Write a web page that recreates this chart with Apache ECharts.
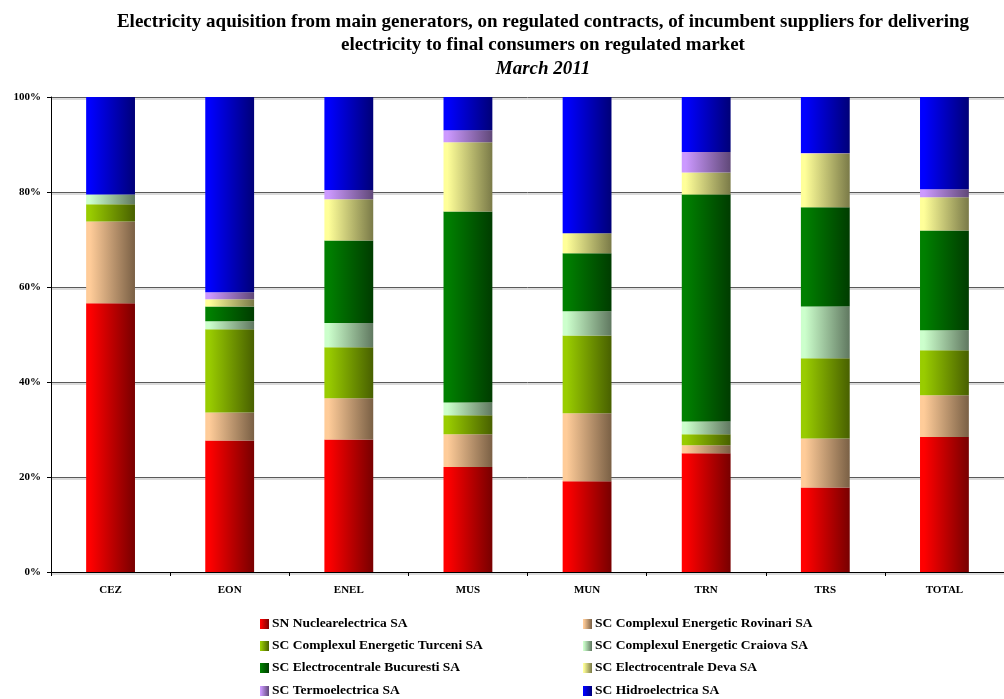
<!DOCTYPE html>
<html>
<head>
<meta charset="utf-8">
<script src="https://cdn.jsdelivr.net/npm/echarts@6/dist/echarts.min.js"></script>
<style>
html,body{margin:0;padding:0;background:#fff;}
#chart{width:1004px;height:699px;}
</style>
</head>
<body>
<div id="chart"></div>
<script>
var categories = ['CEZ','EON','ENEL','MUS','MUN','TRN','TRS','TOTAL'];
var yTicks = ['0%','20%','40%','60%','80%','100%'];

var nuclearelectrica = [56.6, 27.7, 27.9, 22.1, 19.1, 25.0, 17.8, 28.4];
var rovinari         = [17.2,  5.9,  8.7,  6.9, 14.3,  1.7, 10.3,  8.8];
var turceni          = [ 3.6, 17.5, 10.7,  4.0, 16.4,  2.3, 16.9,  9.5];
var craiova          = [ 2.1,  1.7,  5.1,  2.7,  5.1,  2.7, 10.9,  4.2];
var bucuresti        = [ 0.0,  3.1, 17.4, 40.2, 12.2, 47.8, 20.9, 21.0];
var deva             = [ 0.0,  1.5,  8.7, 14.6,  4.2,  4.6, 11.3,  7.0];
var termoelectrica   = [ 0.0,  1.5,  1.9,  2.5,  0.0,  4.3,  0.1,  1.7];
var hidroelectrica   = [20.5, 41.1, 19.6,  7.0, 28.7, 11.6, 11.8, 19.4];

var seriesNames = [
  'SN Nuclearelectrica SA',
  'SC Complexul Energetic Rovinari SA',
  'SC Complexul Energetic Turceni SA',
  'SC Complexul Energetic Craiova SA',
  'SC Electrocentrale Bucuresti SA',
  'SC Electrocentrale Deva SA',
  'SC Termoelectrica SA',
  'SC Hidroelectrica SA'
];
var seriesData = [nuclearelectrica, rovinari, turceni, craiova, bucuresti, deva, termoelectrica, hidroelectrica];
var lightColors = ['#FF0000','#FFCC99','#99CC00','#CCFFCC','#008000','#FFFF99','#CC99FF','#0000FF'];
var darkColors  = ['#780000','#7A6045','#486000','#607860','#003C00','#7A7A48','#604878','#000078'];

function grad(i){
  return new echarts.graphic.LinearGradient(0,0,1,0,[
    {offset:0,color:lightColors[i]},
    {offset:0.08,color:lightColors[i]},
    {offset:1,color:darkColors[i]}
  ]);
}

var series = seriesNames.map(function(n,i){
  return {
    name:n, type:'bar', stack:'total', barWidth:'41%',
    data: seriesData[i],
    itemStyle:{color:grad(i)},
    emphasis:{disabled:true}
  };
});

var serif = '"Liberation Serif","Times New Roman",serif';

// legend placement: two columns, four rows (row-major order)
var legendRowsY = [623, 645, 667, 690];
var legendColsX = [260, 583];
var legends = seriesNames.map(function(n,i){
  var row = Math.floor(i/2), col = i%2;
  return {
    data:[{name:n, icon:'rect'}],
    left:legendColsX[col], top:legendRowsY[row]-6, padding:0,
    itemWidth:9, itemHeight:10, selectedMode:false,
    textStyle:{fontFamily:serif,fontWeight:'bold',fontSize:13.5,color:'#000',padding:[0,0,0,-2]}
  };
});

var chart = echarts.init(document.getElementById('chart'));
chart.setOption({
  animation:false,
  backgroundColor:'#fff',
  title:[
    {text:'Electricity aquisition from main generators, on regulated contracts, of incumbent suppliers for delivering\nelectricity to final consumers on regulated market',
     left:538, top:6, textAlign:'center',
     textStyle:{fontFamily:serif,fontWeight:'bold',fontSize:19,lineHeight:23,color:'#000'}},
    {text:'March 2011', left:538, top:55, textAlign:'center',
     textStyle:{fontFamily:serif,fontWeight:'bold',fontStyle:'italic',fontSize:19,color:'#000'}}
  ],
  legend:legends,
  grid:{left:51, top:97, width:957, height:475, containLabel:false},
  xAxis:{
    type:'category', data:categories,
    axisLine:{lineStyle:{color:'#000',width:1}},
    axisTick:{show:true, length:4, lineStyle:{color:'#000'}},
    axisLabel:{fontFamily:serif,fontWeight:'bold',fontSize:11,color:'#000',margin:13}
  },
  yAxis:{
    type:'value', min:0, max:100, interval:20,
    axisLine:{show:true,lineStyle:{color:'#000',width:1}},
    axisTick:{show:true,length:4,lineStyle:{color:'#000'}},
    axisLabel:{fontFamily:serif,fontWeight:'bold',fontSize:11,color:'#000',margin:10,
      formatter:function(v){return yTicks[Math.round(v/20)];}},
    splitLine:{show:true,lineStyle:{color:'#5a5a5a',width:1,shadowColor:'#b8b8b8',shadowOffsetY:1.5,shadowBlur:0}}
  },
  series:series
});
</script>
</body>
</html>
